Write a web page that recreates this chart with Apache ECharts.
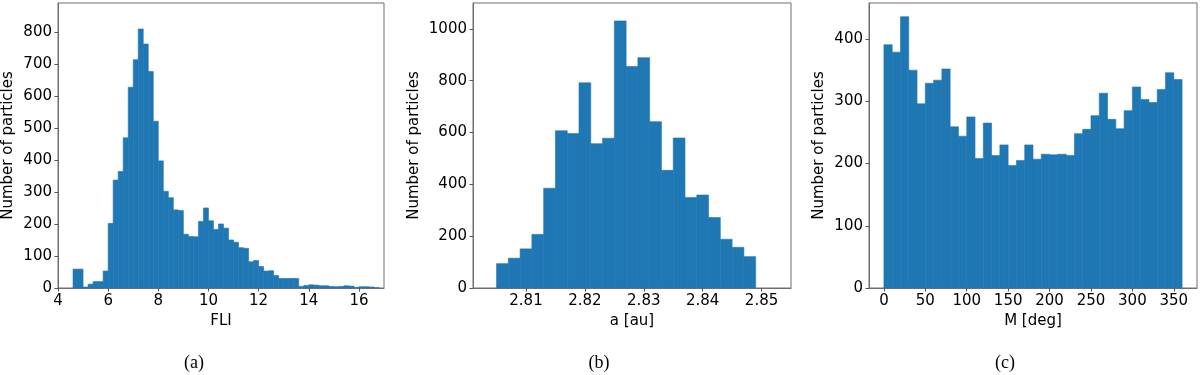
<!DOCTYPE html>
<html>
<head>
<meta charset="utf-8">
<script src="https://cdn.jsdelivr.net/npm/echarts/dist/echarts.min.js"></script>
<style>
	html, body { margin: 0; padding: 0; background: #fff; }
	#histChart { width: 1200px; height: 375px; }
</style>
</head>
<body>
<div id="histChart"></div>
<script>
	// (a) FLI histogram, bins of 0.2
	const fliBinStart = [4.6, 4.8, 5.0, 5.2, 5.4, 5.6, 5.8, 6.0, 6.2, 6.4, 6.6, 6.8, 7.0, 7.2, 7.4, 7.6, 7.8, 8.0, 8.2, 8.4,
		8.6, 8.8, 9.0, 9.2, 9.4, 9.6, 9.8, 10.0, 10.2, 10.4, 10.6, 10.8, 11.0, 11.2, 11.4, 11.6, 11.8, 12.0, 12.2, 12.4,
		12.6, 12.8, 13.0, 13.2, 13.4, 13.6, 13.8, 14.0, 14.2, 14.4, 14.6, 14.8, 15.0, 15.2, 15.4, 15.6, 15.8, 16.0, 16.2, 16.4, 16.6]
	const fliCounts = [59, 59, 3, 12, 20, 20, 53, 202, 337, 364, 469, 627, 713, 809, 762, 676, 521, 397, 302, 282,
		244, 242, 168, 161, 160, 208, 250, 210, 183, 200, 187, 150, 143, 126, 124, 82, 86, 67, 53, 54,
		39, 30, 30, 30, 30, 5, 8, 10, 9, 7, 7, 5, 4, 5, 7, 6, 2, 4, 4, 3, 1]
	const fliBinWidth = 0.2
	const fliTicks = [4, 6, 8, 10, 12, 14, 16]
	const fliCountTicks = [0, 100, 200, 300, 400, 500, 600, 700, 800]

	// (b) semi-major axis histogram, bins of 0.002 au
	const aBinStart = [2.805, 2.807, 2.809, 2.811, 2.813, 2.815, 2.817, 2.819, 2.821, 2.823, 2.825,
		2.827, 2.829, 2.831, 2.833, 2.835, 2.837, 2.839, 2.841, 2.843, 2.845, 2.847]
	const aCounts = [94, 115, 151, 207, 385, 607, 596, 792, 557, 578, 1031,
		855, 889, 642, 454, 579, 349, 359, 272, 188, 157, 121]
	const aBinWidth = 0.002
	const aTicks = [2.81, 2.82, 2.83, 2.84, 2.85]
	const aCountTicks = [0, 200, 400, 600, 800, 1000]

	// (c) mean anomaly histogram, bins of 10 deg
	const mBinStart = [0, 10, 20, 30, 40, 50, 60, 70, 80, 90, 100, 110, 120, 130, 140, 150, 160, 170,
		180, 190, 200, 210, 220, 230, 240, 250, 260, 270, 280, 290, 300, 310, 320, 330, 340, 350]
	const mCounts = [391, 379, 436, 350, 296, 329, 334, 352, 259, 244, 275, 208, 265, 213, 230, 197, 205, 230,
		207, 215, 214, 215, 213, 248, 255, 277, 313, 271, 256, 285, 323, 303, 298, 319, 346, 335]
	const mBinWidth = 10
	const mTicks = [0, 50, 100, 150, 200, 250, 300, 350]
	const mCountTicks = [0, 100, 200, 300, 400]

	const barColor = '#1f77b4'
	const frameColor = '#6e6e6e'
	const font = 'DejaVu Sans'

	const histRender = (width) => {
		return (params, api) => {
			const x0 = api.value(0)
			const y = api.value(1)
			const p0 = api.coord([x0, 0])
			const p1 = api.coord([x0 + width, y])
			return {
				type: 'rect',
				shape: {
					x: p0[0],
					y: p1[1],
					width: p1[0] - p0[0],
					height: p0[1] - p1[1]
				},
				style: {
					fill: barColor,
					stroke: barColor,
					lineWidth: 0.6
				}
			}
		}
	}

	const makeXAxis = (idx, name, min, max, ticks, fmt) => ({
		type: 'value',
		gridIndex: idx,
		min: min,
		max: max,
		name: name,
		nameLocation: 'middle',
		nameGap: 24,
		nameTextStyle: { fontFamily: font, fontSize: 15, color: '#000' },
		z: 10,
		axisLine: { show: true, onZero: false, lineStyle: { color: frameColor, width: 1 } },
		axisTick: { show: true, length: 3.5, customValues: ticks, lineStyle: { color: '#555' } },
		axisLabel: {
			customValues: ticks,
			margin: 6,
			fontFamily: font,
			fontSize: 15,
			color: '#000',
			formatter: fmt || ((v) => String(v))
		},
		splitLine: { show: false }
	})

	const makeYAxis = (idx, max, ticks, gap) => ({
		type: 'value',
		gridIndex: idx,
		min: 0,
		max: max,
		name: 'Number of particles',
		nameLocation: 'middle',
		nameRotate: 90,
		nameGap: gap,
		nameTextStyle: { fontFamily: font, fontSize: 15, color: '#000' },
		z: 10,
		axisLine: { show: true, onZero: false, lineStyle: { color: frameColor, width: 1 } },
		axisTick: { show: true, length: 3.5, customValues: ticks, lineStyle: { color: '#555' } },
		axisLabel: {
			customValues: ticks,
			margin: 6,
			fontFamily: font,
			fontSize: 15,
			color: '#000',
			formatter: (v) => String(v)
		},
		splitLine: { show: false }
	})

	const caption = (x, text) => ({
		type: 'text',
		x: x,
		y: 363,
		style: {
			text: text,
			font: '18px "Liberation Serif"',
			fill: '#000',
			align: 'center',
			verticalAlign: 'middle'
		}
	})

	const getData = () => {
		const option = {
			animation: false,
			backgroundColor: '#fff',
			grid: [
				{ left: 57, top: 3, width: 327, height: 285, show: true, borderColor: frameColor, borderWidth: 1 },
				{ left: 473, top: 3, width: 318, height: 285, show: true, borderColor: frameColor, borderWidth: 1 },
				{ left: 869, top: 3, width: 328, height: 285, show: true, borderColor: frameColor, borderWidth: 1 }
			],
			xAxis: [
				makeXAxis(0, 'FLI', 4, 17, fliTicks),
				makeXAxis(1, 'a [au]', 2.801, 2.855, aTicks, (v) => v.toFixed(2)),
				makeXAxis(2, 'M [deg]', -18, 378, mTicks)
			],
			yAxis: [
				makeYAxis(0, 890, fliCountTicks, 42),
				makeYAxis(1, 1100, aCountTicks, 51),
				makeYAxis(2, 458, mCountTicks, 42)
			],
			series: [{
					type: 'custom',
					xAxisIndex: 0,
					yAxisIndex: 0,
					renderItem: histRender(fliBinWidth),
					data: fliBinStart.map((x, i) => [x, fliCounts[i]])
				},
				{
					type: 'custom',
					xAxisIndex: 1,
					yAxisIndex: 1,
					renderItem: histRender(aBinWidth),
					data: aBinStart.map((x, i) => [x, aCounts[i]])
				},
				{
					type: 'custom',
					xAxisIndex: 2,
					yAxisIndex: 2,
					renderItem: histRender(mBinWidth),
					data: mBinStart.map((x, i) => [x, mCounts[i]])
				}
			],
			graphic: [
				caption(194, '(a)'),
				caption(599, '(b)'),
				caption(1005, '(c)')
			]
		}
		return option
	}

	const myChart = echarts.init(document.getElementById('histChart'), null, { renderer: 'canvas' })
	myChart.setOption(getData())
</script>
</body>
</html>
